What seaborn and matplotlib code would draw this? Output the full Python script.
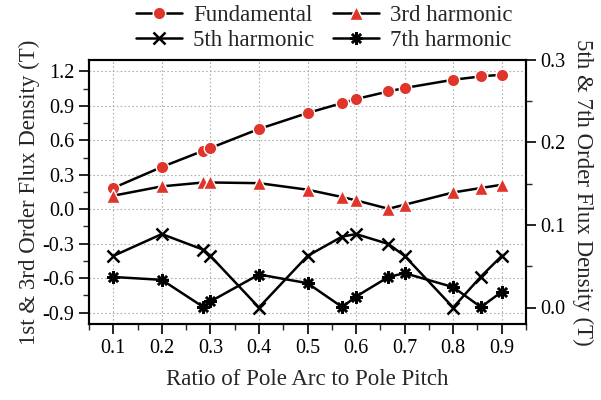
import matplotlib
matplotlib.use("Agg")
import matplotlib.pyplot as plt
import seaborn as sns
import pandas as pd
from matplotlib.ticker import MultipleLocator

# Ratio of pole arc to pole pitch
ratio = [0.1, 0.2, 2/7, 0.3, 0.4, 0.5, 4/7, 0.6, 2/3, 0.7, 0.8, 6/7, 0.9]

# Left axis (T)
fundamental = [0.185, 0.368, 0.510, 0.533, 0.699, 0.838, 0.925, 0.960, 1.026, 1.056, 1.128, 1.157, 1.172]
third = [0.118, 0.199, 0.233, 0.233, 0.227, 0.170, 0.106, 0.077, 0.004, 0.039, 0.146, 0.185, 0.213]

# Right axis (T)
fifth = [0.0625, 0.089, 0.070, 0.0625, 0.0, 0.0625, 0.086, 0.089, 0.077, 0.0625, 0.0, 0.0375, 0.0625]
seventh = [0.037, 0.0335, 0.0005, 0.0073, 0.040, 0.0295, 0.0005, 0.0133, 0.037, 0.0416, 0.0247, 0.0005, 0.019]

x_ticks = [0.1, 0.2, 0.3, 0.4, 0.5, 0.6, 0.7, 0.8, 0.9]

df = pd.DataFrame({"ratio": ratio, "Fundamental": fundamental, "3rd harmonic": third,
                   "5th harmonic": fifth, "7th harmonic": seventh})

sns.set_theme(style="ticks")
plt.rcParams["font.family"] = ["Liberation Serif", "DejaVu Serif"]
plt.rcParams["mathtext.fontset"] = "stix"

RED = "#e0352b"

fig = plt.figure(figsize=(6.01, 4.0), dpi=100)
ax = fig.add_axes([89 / 601, 76 / 400, 437 / 601, 264 / 400])
ax2 = ax.twinx()

common = dict(color="black", lw=1.8, estimator=None, sort=False)
sns.lineplot(data=df, x="ratio", y="Fundamental", ax=ax, marker="o", ms=9,
             markerfacecolor=RED, markeredgecolor="white", markeredgewidth=1.0,
             label="Fundamental", **common)
sns.lineplot(data=df, x="ratio", y="3rd harmonic", ax=ax, marker="^", ms=9.5,
             markerfacecolor=RED, markeredgecolor="white", markeredgewidth=1.0,
             label="3rd harmonic", **common)
sns.lineplot(data=df, x="ratio", y="5th harmonic", ax=ax2, marker="x", ms=8,
             markeredgecolor="black", markeredgewidth=1.8,
             label="5th harmonic", **common)
sns.lineplot(data=df, x="ratio", y="7th harmonic", ax=ax2, marker=(8, 2, 0), ms=9,
             markeredgecolor="black", markeredgewidth=1.8,
             label="7th harmonic", **common)

ax.set_xlim(0.05, 0.95)
ax.set_ylim(-1.0, 1.3)
ax2.set_ylim(-0.02, 0.3)

ax.set_xticks(x_ticks)
ax.set_xticklabels([f"{v:.1f}" for v in x_ticks])
ax.xaxis.set_minor_locator(MultipleLocator(0.05))
left_ticks = [-0.9, -0.6, -0.3, 0.0, 0.3, 0.6, 0.9, 1.2]
ax.set_yticks(left_ticks)
ax.set_yticklabels([f"{v:.1f}" for v in left_ticks])
ax.yaxis.set_minor_locator(MultipleLocator(0.15))
ax2.set_yticks([0.0, 0.1, 0.2, 0.3])
ax2.set_yticklabels(["0.0", "0.1", "0.2", "0.3"])
ax2.yaxis.set_minor_locator(MultipleLocator(0.05))

ax.grid(True, which="major", color="#b0b0b0", linestyle=(0, (1.5, 2)), lw=0.8)
ax.set_axisbelow(True)

for a in (ax, ax2):
    a.tick_params(which="major", direction="out", length=7, width=1.2, labelsize=14.5, colors="black")
    a.tick_params(which="minor", direction="out", length=4, width=1.0)
    for s in a.spines.values():
        s.set_linewidth(1.5)
        s.set_color("black")
        s.set_visible(True)
ax2.tick_params(axis="y", which="both", right=True, left=False)

ax.set_xlabel("Ratio of Pole Arc to Pole Pitch", fontsize=16.5, labelpad=8)
ax.set_ylabel("1st & 3rd Order Flux Density (T)", fontsize=16.5, labelpad=2)
ax2.set_ylabel("5th & 7th Order Flux Density (T)", fontsize=16.5, rotation=270, labelpad=20)

h1, l1 = ax.get_legend_handles_labels()
h2, l2 = ax2.get_legend_handles_labels()
ax.get_legend().remove()
ax2.get_legend().remove()
# column-major fill: Fundamental/5th in column 1, 3rd/7th in column 2
handles = [h1[0], h2[0], h1[1], h2[1]]
labels = [l1[0], l2[0], l1[1], l2[1]]
fig.legend(handles, labels, ncol=2, loc="upper center", bbox_to_anchor=(0.54, 1.04),
           frameon=False, fontsize=16.5, handlelength=2.0, columnspacing=0.8,
           labelspacing=0.2, handletextpad=0.5)

fig.savefig("out.png", dpi=100)
